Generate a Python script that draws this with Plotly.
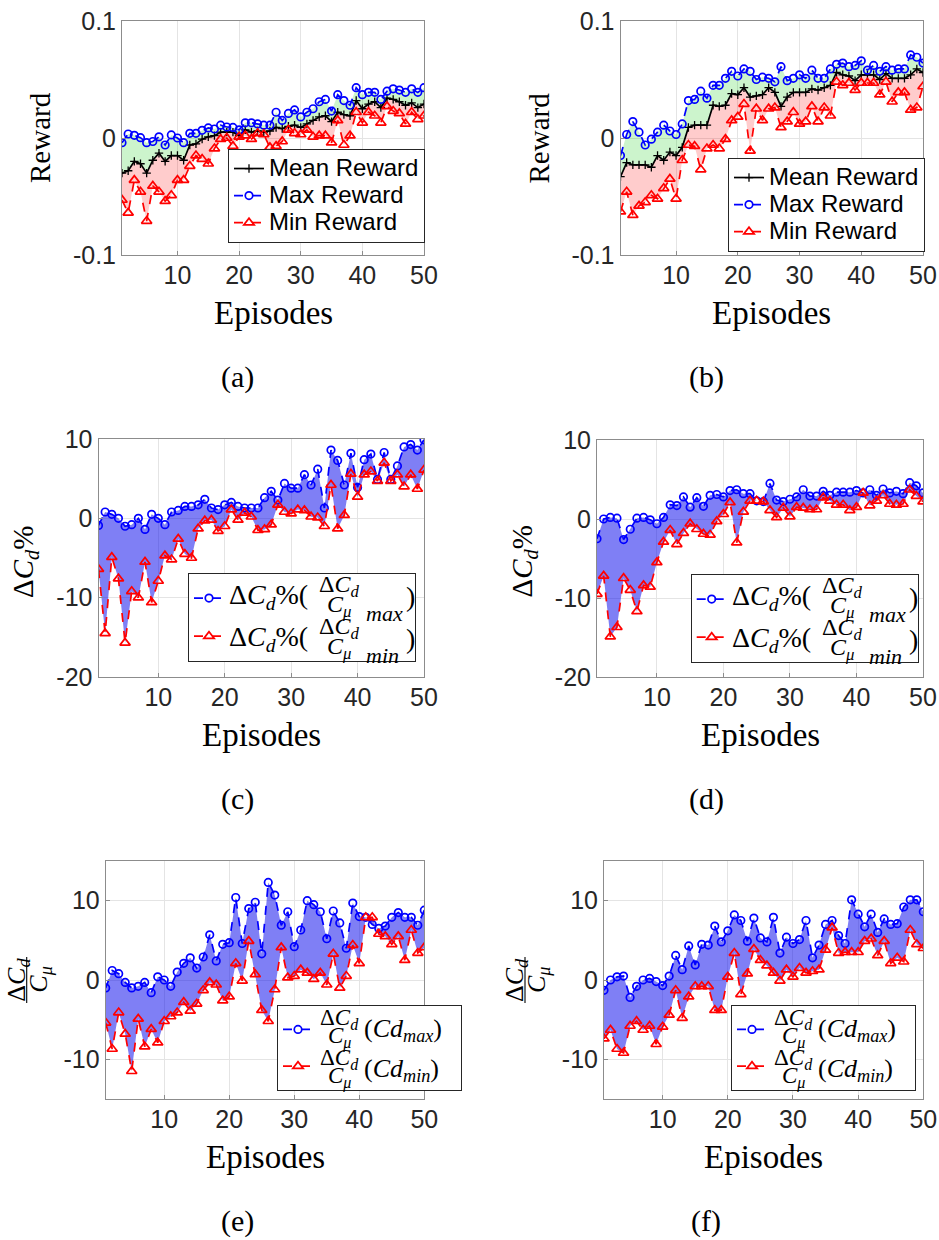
import plotly.graph_objects as go

W, H = 939, 1240

# ---------------- data ----------------
episodes = list(range(1, 51))
x_tick_vals = [10, 20, 30, 40, 50]
reward_tick_vals = [-0.1, 0, 0.1]
reward_tick_text = ["-0.1", "0", "0.1"]
cd_tick_vals = [-20, -10, 0, 10]
cd_tick_text = ["-20", "-10", "0", "10"]
ratio_tick_vals = [-10, 0, 10]
ratio_tick_text = ["-10", "0", "10"]

a_max = [-0.004, 0.0034, 0.0023, 0.0003, -0.004, -0.003, 0.001, -0.006, 0.0026, 0.000,
         -0.004, 0.004, 0.004, 0.0066, 0.0086, 0.0077, 0.011, 0.0094, 0.009, 0.0069,
         0.013, 0.013, 0.012, 0.011, 0.011, 0.022, 0.015, 0.021, 0.024, 0.018,
         0.022, 0.025, 0.031, 0.033, 0.023, 0.037, 0.032, 0.028, 0.043, 0.037,
         0.039, 0.039, 0.033, 0.040, 0.042, 0.041, 0.039, 0.042, 0.039, 0.043]
a_mean = [-0.030, -0.028, -0.020, -0.022, -0.030, -0.019, -0.013, -0.020, -0.015, -0.015,
          -0.019, -0.006, -0.005, -0.001, 0.001, 0.002, 0.005, 0.005, 0.005, 0.002,
          0.007, 0.005, 0.006, 0.005, 0.006, 0.009, 0.008, 0.010, 0.011, 0.009,
          0.012, 0.015, 0.018, 0.019, 0.014, 0.022, 0.020, 0.019, 0.032, 0.025,
          0.029, 0.031, 0.026, 0.034, 0.033, 0.031, 0.028, 0.030, 0.026, 0.029]
a_min = [-0.053, -0.064, -0.036, -0.046, -0.071, -0.041, -0.046, -0.054, -0.049, -0.036,
         -0.036, -0.024, -0.015, -0.018, -0.022, -0.009, -0.001, 0.000, -0.007, 0.001,
         0.002, -0.001, 0.004, 0.003, -0.008, -0.007, -0.003, 0.007, 0.004, 0.003,
         0.007, 0.001, 0.002, 0.002, -0.004, 0.015, -0.006, 0.002, 0.022, 0.013,
         0.022, 0.019, 0.013, 0.027, 0.023, 0.021, 0.012, 0.022, 0.016, 0.019]

b_max = [-0.015, 0.003, 0.014, 0.005, -0.006, -0.001, 0.005, 0.011, 0.006, 0.003,
         0.012, 0.032, 0.033, 0.040, 0.034, 0.045, 0.045, 0.051, 0.057, 0.053,
         0.059, 0.057, 0.050, 0.052, 0.051, 0.048, 0.061, 0.049, 0.051, 0.054,
         0.051, 0.058, 0.051, 0.051, 0.059, 0.063, 0.064, 0.061, 0.062, 0.066,
         0.058, 0.062, 0.057, 0.061, 0.058, 0.059, 0.059, 0.071, 0.069, 0.064]
b_mean = [-0.033, -0.021, -0.023, -0.023, -0.023, -0.025, -0.015, -0.019, -0.012, -0.015,
          -0.008, 0.009, 0.011, 0.011, 0.011, 0.028, 0.027, 0.028, 0.038, 0.037,
          0.043, 0.035, 0.036, 0.037, 0.043, 0.039, 0.027, 0.035, 0.039, 0.039,
          0.039, 0.042, 0.041, 0.043, 0.045, 0.056, 0.054, 0.053, 0.049, 0.054,
          0.054, 0.054, 0.050, 0.055, 0.051, 0.051, 0.051, 0.054, 0.059, 0.056]
b_min = [-0.063, -0.046, -0.066, -0.058, -0.055, -0.049, -0.052, -0.043, -0.035, -0.052,
         -0.019, -0.006, -0.007, -0.027, -0.009, -0.006, -0.009, -0.001, 0.015, 0.018,
         0.029, -0.011, 0.025, 0.015, 0.025, 0.026, 0.009, 0.014, 0.022, 0.012,
         0.014, 0.027, 0.014, 0.026, 0.019, 0.048, 0.045, 0.047, 0.041, 0.047,
         0.047, 0.047, 0.037, 0.048, 0.031, 0.039, 0.039, 0.024, 0.026, 0.044]

c_max = [-0.9, 0.8, 0.5, 0.0, -1.0, -0.8, 0.0, -1.4, 0.5, 0.0,
         -0.8, 0.8, 1.0, 1.5, 1.5, 1.7, 2.4, 1.3, 1.1, 1.7,
         2.0, 1.5, 1.3, 1.3, 1.3, 2.6, 3.4, 2.3, 4.4, 3.8,
         3.8, 5.5, 4.2, 6.2, 1.3, 8.6, 7.3, 4.2, 8.2, 3.9,
         7.4, 8.1, 4.9, 8.3, 4.9, 6.6, 9.0, 9.3, 8.6, 9.9]
c_min = [-6.4, -14.5, -4.9, -7.6, -15.7, -9.2, -10.0, -5.5, -10.6, -7.9,
         -4.7, -5.2, -2.6, -4.5, -5.0, -1.3, -0.3, -0.2, -1.6, -1.0,
         1.1, -0.2, 0.7, 0.2, -1.5, -1.4, -0.8, 1.7, 0.8, 0.6,
         1.1, 1.0, 0.2, 0.1, -1.0, 4.2, -1.3, 0.4, 5.6, 2.7,
         5.5, 5.9, 4.7, 7.0, 4.7, 5.5, 4.0, 5.5, 3.7, 6.1]

d_max = [-2.5, 0.0, 0.2, 0.1, -2.6, -1.3, 0.1, 0.2, -0.1, -0.6,
         0.2, 1.8, 1.7, 2.8, 1.5, 2.7, 1.6, 3.0, 3.1, 2.8,
         3.6, 3.7, 3.2, 3.2, 2.3, 2.2, 4.5, 2.4, 2.2, 2.5,
         2.8, 3.7, 2.9, 2.9, 3.5, 3.0, 3.4, 3.4, 3.4, 3.6,
         3.3, 3.7, 3.0, 3.8, 3.3, 3.5, 3.2, 4.6, 4.2, 3.3]
d_min = [-9.5, -7.2, -14.9, -13.7, -7.5, -9.0, -11.7, -8.4, -8.6, -5.5,
         -2.9, -1.4, -3.2, -1.8, -0.6, -1.3, -1.9, -2.0, -0.3, 0.6,
         2.1, -3.0, 0.9, 2.3, 2.3, 2.2, 1.1, 0.2, 1.4, 0.3,
         1.5, 1.4, 1.2, 1.2, 2.7, 2.3, 1.8, 1.8, 1.1, 1.5,
         3.3, 1.7, 2.3, 3.0, 1.9, 1.8, 1.9, 3.7, 2.9, 2.2]

e_max = [-1.0, 1.2, 0.8, -0.3, -1.0, -0.8, -0.3, -1.6, 0.4, 0.0,
         -0.8, 1.0, 2.1, 2.8, 1.5, 2.9, 5.7, 2.4, 4.5, 4.7,
         10.4, 4.6, 9.0, 9.8, 3.3, 12.3, 10.7, 6.9, 8.6, 4.2,
         6.3, 10.0, 9.5, 8.6, 5.2, 8.7, 7.2, 4.0, 9.7, 8.0,
         7.9, 7.0, 6.5, 6.8, 7.9, 8.5, 7.9, 7.9, 6.9, 8.8]
e_min = [-5.4, -8.7, -4.1, -6.8, -11.5, -4.9, -8.4, -6.2, -7.9, -5.2,
         -4.6, -4.1, -2.8, -3.9, -3.0, -1.3, -0.3, -0.6, -2.6, -2.1,
         2.1, -0.1, 4.9, 0.7, -3.8, -5.2, -1.2, 4.1, 0.3, 0.5,
         1.3, 0.9, 0.1, 0.9, -0.6, 3.3, -1.0, 0.5, 4.4, 2.1,
         7.9, 7.9, 5.8, 5.5, 4.5, 5.5, 2.5, 6.3, 3.4, 4.1]

f_max = [-1.3, 0.0, 0.4, 0.5, -2.2, -0.8, 0.0, 0.2, -0.2, -0.7,
         0.5, 3.1, 1.3, 4.3, 1.9, 4.5, 4.4, 6.8, 4.8, 6.2,
         8.2, 7.5, 4.9, 7.8, 5.3, 4.8, 7.9, 3.4, 5.4, 4.6,
         5.1, 7.5, 2.8, 4.4, 7.0, 7.5, 5.6, 4.6, 10.1, 8.3,
         6.7, 8.3, 6.0, 7.7, 7.0, 7.1, 9.2, 10.1, 10.1, 8.6]
f_min = [-7.4, -6.3, -8.7, -9.2, -5.8, -5.2, -6.3, -5.8, -8.1, -5.9,
         -4.4, -1.3, -4.8, -2.1, -0.8, -0.8, -0.8, -3.8, -3.8, 0.4,
         3.4, -1.8, 0.8, 3.9, 2.5, 1.8, 0.9, -0.1, 1.3, 0.4,
         1.5, 0.9, 1.1, 1.3, 3.8, 6.6, 3.4, 3.5, 3.5, 3.5,
         4.9, 5.2, 3.1, 4.9, 2.1, 2.8, 2.3, 6.3, 4.5, 4.0]

# ---------------- styling ----------------
BLUE = "#0000ff"
RED = "#ff0000"
GREEN_FILL = "rgba(0,200,0,0.2)"
PINK_FILL = "rgba(255,0,0,0.2)"
BLUE_FILL = "rgba(10,10,235,0.52)"
SERIF = "Liberation Serif, Times New Roman, serif"
SANS = "Liberation Sans, Arial, sans-serif"
NB = "\u00a0"


def fx(x):
    return x / W


def fy(y):
    return 1 - y / H


# plot boxes in pixels: left, right, top, bottom
boxes = {
    1: (122, 424, 21, 255),
    2: (620.5, 923, 21, 255),
    3: (98.5, 424, 439, 677),
    4: (597, 923, 440, 677),
    5: (105.7, 424.3, 861, 1099),
    6: (604, 923.3, 861, 1099),
}
yranges = {1: [-0.1, 0.1], 2: [-0.1, 0.1], 3: [-20, 10], 4: [-20, 10],
           5: [-15, 15], 6: [-15, 15]}


def ax_names(i):
    return ("x" if i == 1 else f"x{i}", "y" if i == 1 else f"y{i}")


def leg_name(i):
    return "legend" if i == 1 else f"legend{i}"


fig = go.Figure()


def add_band(i, lower, upper, color):
    xa, ya = ax_names(i)
    fig.add_trace(go.Scatter(x=episodes, y=lower, mode="lines",
                             line=dict(width=0, color=color), showlegend=False,
                             hoverinfo="skip", xaxis=xa, yaxis=ya))
    fig.add_trace(go.Scatter(x=episodes, y=upper, mode="lines",
                             line=dict(width=0, color=color), fill="tonexty",
                             fillcolor=color, showlegend=False,
                             hoverinfo="skip", xaxis=xa, yaxis=ya))


def add_series(i, y, kind, name):
    xa, ya = ax_names(i)
    if kind == "max":
        line = dict(color=BLUE, width=1.7, dash="dash")
        marker = dict(symbol="circle-open", size=7.5, color=BLUE, line=dict(width=1.7, color=BLUE))
    elif kind == "min":
        line = dict(color=RED, width=1.7, dash="dash")
        marker = dict(symbol="triangle-up-open", size=9, color=RED, line=dict(width=1.7, color=RED))
    else:
        line = dict(color="black", width=1.7)
        marker = dict(symbol="cross-thin", size=6, color="black", line=dict(width=1.3, color="black"))
    fig.add_trace(go.Scatter(x=episodes, y=y, mode="lines+markers", name=name,
                             line=line, marker=marker, xaxis=xa, yaxis=ya,
                             legend=leg_name(i)))


def big(s):
    return f"<span style='font-size:24px'>{s}</span>"


# reward panels
for i, (mx, mn, lo) in {1: (a_max, a_mean, a_min), 2: (b_max, b_mean, b_min)}.items():
    add_band(i, mn, mx, GREEN_FILL)
    add_band(i, lo, mn, PINK_FILL)
    add_series(i, mn, "mean", big("Mean Reward"))
    add_series(i, mx, "max", big("Max Reward"))
    add_series(i, lo, "min", big("Min Reward"))

# drag / ratio panels (legend text drawn as annotations; names reserve space)
LEG_CD_N = 24
LEG_R_N = 19
for i, (mx, lo) in {3: (c_max, c_min), 4: (d_max, d_min),
                    5: (e_max, e_min), 6: (f_max, f_min)}.items():
    add_band(i, lo, mx, BLUE_FILL)
    n = LEG_CD_N if i in (3, 4) else LEG_R_N
    add_series(i, mx, "max", NB * n)
    add_series(i, lo, "min", NB * (n - 1))

layout = dict(width=W, height=H, margin=dict(l=0, r=0, t=0, b=0, autoexpand=False),
              paper_bgcolor="white", plot_bgcolor="white", showlegend=True)

axis_common = dict(showline=True, linecolor="#8c8c8c", linewidth=1, mirror=True,
                   showgrid=True, gridcolor="#e4e4e4", gridwidth=1, zeroline=False,
                   ticks="inside", ticklen=4, tickcolor="#8c8c8c", automargin=False,
                   tickfont=dict(family=SANS, size=25, color="#262626"))

for i, (l, r, t, b) in boxes.items():
    xa, ya = ax_names(i)
    xk = "xaxis" if i == 1 else f"xaxis{i}"
    yk = "yaxis" if i == 1 else f"yaxis{i}"
    layout[xk] = dict(axis_common, domain=[fx(l), fx(r)], anchor=ya, range=[1, 50],
                      tickvals=x_tick_vals, ticklabelstandoff=-2)
    ydict = dict(axis_common, domain=[fy(b), fy(t)], anchor=xa, range=yranges[i],
                 ticklabelstandoff=0)
    if i in (1, 2):
        ydict.update(tickvals=reward_tick_vals, ticktext=reward_tick_text)
    elif i in (3, 4):
        ydict.update(tickvals=cd_tick_vals, ticktext=cd_tick_text)
    else:
        ydict.update(tickvals=ratio_tick_vals, ticktext=ratio_tick_text)
    layout[yk] = ydict

# legend boxes (left, top) in px
leg_pos = {1: (228, 149), 2: (728, 158), 3: (188, 573), 4: (690.7, 574),
           5: (277, 1005), 6: (731, 1005)}
leg_font = {1: 18.5, 2: 18.5, 3: 27, 4: 27, 5: 26, 6: 26}
for i, (l, t) in leg_pos.items():
    layout[leg_name(i)] = dict(x=fx(l), y=fy(t), xref="paper", yref="paper",
                               xanchor="left", yanchor="top", bgcolor="white",
                               bordercolor="#262626", borderwidth=1,
                               traceorder="normal",
                               font=dict(family=SANS, size=leg_font[i], color="black"),
                               tracegroupgap=0)

fig.update_layout(**layout)

ann = []
shapes = []


def text(x, y, s, size, family=SERIF, xanchor="center", yanchor="middle", angle=0,
         align="center", color="black"):
    ann.append(dict(x=fx(x), y=fy(y), xref="paper", yref="paper", text=s,
                    showarrow=False, xanchor=xanchor, yanchor=yanchor,
                    textangle=angle, align=align, borderpad=0,
                    font=dict(family=family, size=size, color=color)))


def bar(x0, y0, x1, y1, width=1.1):
    shapes.append(dict(type="line", xref="paper", yref="paper",
                       x0=fx(x0), y0=fy(y0), x1=fx(x1), y1=fy(y1),
                       line=dict(color="black", width=width)))


NUM = "Δ<i>C</i><sub><i>d</i></sub>"
DEN = "<i>C</i><sub><i>μ</i></sub>"


def fraction(cx, bar_y, size, half_w, up, down):
    text(cx, bar_y - up, NUM, size)
    text(cx, bar_y + down, DEN, size)
    bar(cx - half_w, bar_y, cx + half_w, bar_y)


def vfraction(bar_x, cy, size, half_h, left, right):
    text(bar_x - left, cy, NUM, size, angle=-90)
    text(bar_x + right, cy, DEN, size, angle=-90)
    bar(bar_x, cy - half_h, bar_x, cy + half_h)


# legend text for drag panels
for i in (3, 4):
    L, T = leg_pos[i]
    for k, sub in enumerate(["max", "min"]):
        by = T + 22 + 42 * k
        text(L + 40, by + 1, "Δ<i>C</i><sub><i>d</i></sub>%(", 28, xanchor="left")
        fraction(L + 151, by, 24, 22, 9, 11)
        text(L + 177, by + 18, f"<i>{sub}</i>", 22, xanchor="left")
        text(L + 217, by + 1, ")", 28, xanchor="left")

# legend text for ratio panels
for i in (5, 6):
    L, T = leg_pos[i]
    for k, sub in enumerate(["max", "min"]):
        by = T + 22 + 40 * k
        fraction(L + 62, by, 23, 21, 8.5, 10.5)
        text(L + 86, by + 3, f"(<i>Cd</i><sub><i>{sub}</i></sub>)", 26, xanchor="left")

# axis titles
for i in (1, 2):
    l, r, t, b = boxes[i]
    text(l - 82, (t + b) / 2, "Reward", 29, angle=-90)
for i in (3, 4):
    l, r, t, b = boxes[i]
    text(l - 73.5, 562, "Δ<i>C</i><sub><i>d</i></sub>%", 29, angle=-90)
for i in (5, 6):
    l, r, t, b = boxes[i]
    vfraction(l - 79, 980, 26, 23, 9, 13)
for i, (l, r, t, b) in boxes.items():
    text((l + r) / 2, b + 58, "Episodes", 33)

labels = ["(a)", "(b)", "(c)", "(d)", "(e)", "(f)"]
for i, lab in enumerate(labels, start=1):
    l, r, t, b = boxes[i]
    cx = 237 if i % 2 == 1 else 706
    text(cx, b + 121.5, lab, 30)

fig.update_layout(annotations=ann, shapes=shapes)
fig.write_html("out.html", config={"displayModeBar": False},
               post_script="document.body.style.margin='0px';document.body.style.padding='0px';")
